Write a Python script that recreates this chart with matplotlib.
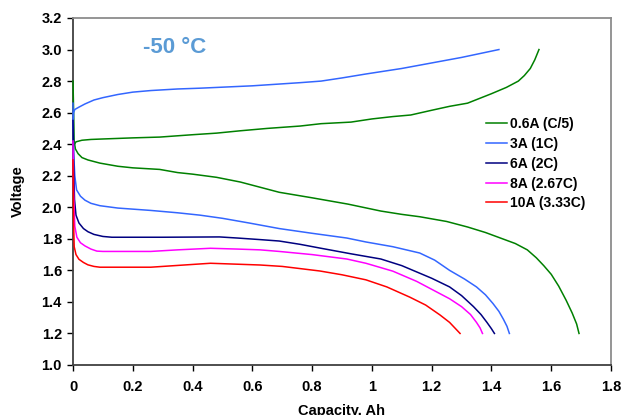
import matplotlib
matplotlib.use("Agg")
import matplotlib.pyplot as plt
from matplotlib.ticker import FuncFormatter

plt.rcParams["font.family"] = ["Liberation Sans", "DejaVu Sans"]
plt.rcParams["font.weight"] = "bold"

# ------------------------------------------------------------
# datos (capacidad en Ah, voltaje en V)
# ------------------------------------------------------------
carga_06_x = [0, 0.005, 0.01, 0.03, 0.06, 0.1, 0.2, 0.29, 0.4, 0.48, 0.56, 0.65, 0.76, 0.83,
              0.93, 1.0, 1.07, 1.13, 1.2, 1.26, 1.32, 1.36, 1.40, 1.45, 1.49, 1.51, 1.53,
              1.545, 1.559]
carga_06_y = [2.40, 2.40, 2.415, 2.425, 2.43, 2.433, 2.44, 2.445, 2.46, 2.47, 2.485, 2.50,
              2.515, 2.53, 2.54, 2.56, 2.575, 2.585, 2.615, 2.64, 2.66, 2.69, 2.72, 2.76,
              2.80, 2.835, 2.88, 2.935, 3.00]

carga_3_x = [0, 0.002, 0.006, 0.02, 0.04, 0.07, 0.1, 0.15, 0.2, 0.26, 0.35, 0.425, 0.6,
             0.76, 0.83, 0.9, 0.98, 1.1, 1.2, 1.3, 1.425]
carga_3_y = [2.50, 2.60, 2.62, 2.635, 2.655, 2.68, 2.695, 2.715, 2.73, 2.74, 2.75, 2.755,
             2.77, 2.79, 2.80, 2.82, 2.845, 2.88, 2.915, 2.95, 3.00]

desc_06_x = [0, 0.004, 0.008, 0.017, 0.03, 0.05, 0.09, 0.15, 0.2, 0.29, 0.35, 0.4, 0.48,
             0.56, 0.62, 0.69, 0.80, 0.92, 1.03, 1.1, 1.16, 1.25, 1.32, 1.38, 1.43, 1.48,
             1.52, 1.55, 1.575, 1.6, 1.625, 1.65, 1.67, 1.685, 1.693]
desc_06_y = [2.80, 2.42, 2.37, 2.34, 2.315, 2.30, 2.28, 2.26, 2.25, 2.24, 2.22, 2.21, 2.19,
             2.16, 2.13, 2.095, 2.06, 2.02, 1.976, 1.955, 1.94, 1.91, 1.875, 1.84, 1.805,
             1.77, 1.73, 1.68, 1.63, 1.575, 1.50, 1.41, 1.33, 1.26, 1.20]

desc_3_x = [0, 0.002, 0.006, 0.012, 0.025, 0.04, 0.06, 0.09, 0.15, 0.26, 0.35, 0.425, 0.5,
            0.59, 0.69, 0.8, 0.916, 0.98, 1.07, 1.16, 1.21, 1.26, 1.31, 1.35, 1.38, 1.405,
            1.425, 1.44, 1.452, 1.46]
desc_3_y = [2.66, 2.35, 2.20, 2.11, 2.07, 2.045, 2.025, 2.01, 1.995, 1.98, 1.965, 1.95,
            1.93, 1.90, 1.865, 1.835, 1.805, 1.78, 1.75, 1.71, 1.665, 1.60, 1.545, 1.495,
            1.445, 1.39, 1.34, 1.29, 1.245, 1.20]

desc_6_x = [0, 0.002, 0.005, 0.01, 0.02, 0.035, 0.05, 0.07, 0.1, 0.13, 0.3, 0.49, 0.55,
            0.626, 0.69, 0.76, 0.83, 0.93, 1.03, 1.1, 1.15, 1.2, 1.26, 1.3, 1.34, 1.365,
            1.385, 1.40, 1.41]
desc_6_y = [2.55, 2.30, 2.05, 1.95, 1.90, 1.865, 1.845, 1.828, 1.815, 1.81, 1.81, 1.812,
            1.805, 1.795, 1.786, 1.765, 1.74, 1.705, 1.672, 1.63, 1.59, 1.55, 1.495, 1.44,
            1.37, 1.32, 1.27, 1.23, 1.20]

desc_8_x = [0, 0.002, 0.006, 0.013, 0.025, 0.04, 0.06, 0.08, 0.1, 0.26, 0.35, 0.46, 0.55,
            0.626, 0.69, 0.8, 0.916, 0.98, 1.07, 1.15, 1.2, 1.26, 1.3, 1.33, 1.35, 1.362,
            1.37]
desc_8_y = [2.42, 2.10, 1.88, 1.81, 1.775, 1.755, 1.735, 1.722, 1.72, 1.72, 1.73, 1.74,
            1.735, 1.73, 1.72, 1.70, 1.672, 1.645, 1.595, 1.53, 1.48, 1.42, 1.37, 1.32,
            1.27, 1.235, 1.20]

desc_10_x = [0, 0.002, 0.004, 0.01, 0.02, 0.035, 0.05, 0.07, 0.09, 0.26, 0.46, 0.626, 0.7,
             0.826, 0.9, 0.98, 1.05, 1.127, 1.18, 1.228, 1.26, 1.28, 1.295]
desc_10_y = [2.30, 1.90, 1.75, 1.70, 1.67, 1.65, 1.635, 1.625, 1.62, 1.62, 1.645, 1.634,
             1.625, 1.596, 1.572, 1.54, 1.495, 1.43, 1.38, 1.317, 1.27, 1.23, 1.20]

etiquetas = ["0.6A (C/5)", "3A (1C)", "6A (2C)", "8A (2.67C)", "10A (3.33C)"]
colores = ["#008000", "#3366ff", "#000080", "#ff00ff", "#ff0000"]

# ------------------------------------------------------------
# figura
# ------------------------------------------------------------
fig = plt.figure(figsize=(6.21, 4.15), dpi=100)
ax = fig.add_axes([73 / 621, 1 - 365 / 415, 538 / 621, 347 / 415])

lw = 1.1
estilo = dict(lw=lw, zorder=3, clip_on=False, solid_joinstyle="round")
ax.plot(carga_06_x, carga_06_y, color=colores[0], **estilo)
ax.plot(desc_06_x, desc_06_y, color=colores[0], label=etiquetas[0], **estilo)
ax.plot(carga_3_x, carga_3_y, color=colores[1], **estilo)
ax.plot(desc_3_x, desc_3_y, color=colores[1], label=etiquetas[1], **estilo)
ax.plot(desc_6_x, desc_6_y, color=colores[2], label=etiquetas[2], **estilo)
ax.plot(desc_8_x, desc_8_y, color=colores[3], label=etiquetas[3], **estilo)
ax.plot(desc_10_x, desc_10_y, color=colores[4], label=etiquetas[4], **estilo)

ax.set_xlim(0, 1.8)
ax.set_ylim(1.0, 3.2)
ax.set_xticks([0, 0.2, 0.4, 0.6, 0.8, 1.0, 1.2, 1.4, 1.6, 1.8])
ax.set_yticks([1.0, 1.2, 1.4, 1.6, 1.8, 2.0, 2.2, 2.4, 2.6, 2.8, 3.0, 3.2])
ax.xaxis.set_major_formatter(FuncFormatter(lambda v, p: f"{v:g}"))
ax.yaxis.set_major_formatter(FuncFormatter(lambda v, p: f"{v:.1f}"))

ax.tick_params(axis="x", direction="out", length=4, width=1, pad=7, labelsize=10.5, colors="#000000")
ax.tick_params(axis="y", direction="out", length=4, width=1, pad=4, labelsize=10.5, colors="#000000")
for lab in ax.get_xticklabels() + ax.get_yticklabels():
    lab.set_fontweight("bold")

for s in ["left", "bottom"]:
    ax.spines[s].set_color("#404040")
    ax.spines[s].set_linewidth(1.3)
for s in ["top", "right"]:
    ax.spines[s].set_color("#8c8c8c")
    ax.spines[s].set_linewidth(1.3)

ax.set_xlabel("Capacity, Ah", fontsize=10.5, fontweight="bold", labelpad=7)
ax.set_ylabel("Voltage", fontsize=10.5, fontweight="bold", labelpad=12)

ax.text(0.34, 3.01, "-50 °C", color="#5b9bd5", fontsize=16, fontweight="bold",
        ha="center", va="center")

ax.legend(loc="upper left", bbox_to_anchor=(486 / 621, 1 - 117 / 415),
          bbox_transform=fig.transFigure, frameon=False,
          handlelength=1.5, handletextpad=0.2, labelspacing=0.42,
          borderpad=0, borderaxespad=0, prop={"weight": "bold", "size": 10})

fig.savefig("out.png", dpi=100)
